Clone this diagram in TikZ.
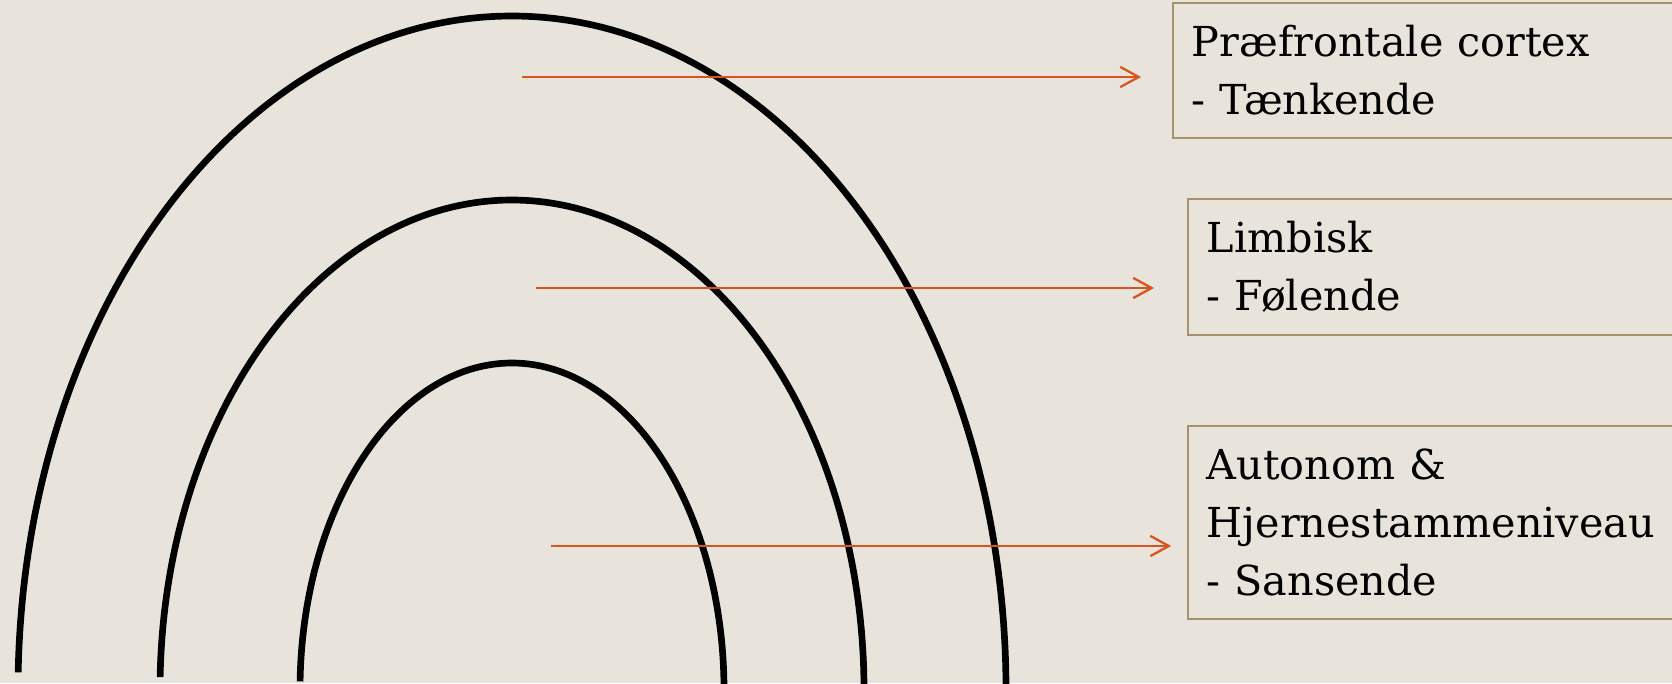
\documentclass[tikz,border=0pt]{standalone}
\usepackage{fontspec}
\setmainfont{DejaVu Serif}
\usepackage{tikz}
\usetikzlibrary{arrows.meta}
\definecolor{bgc}{RGB}{232,228,220}
\definecolor{arrowc}{RGB}{217,83,30}
\definecolor{framec}{RGB}{165,145,110}

\begin{document}
\begin{tikzpicture}[
    x=0.02cm, y=0.02cm,
    arch/.style={line width=3.8pt, black},
    level/.style={draw=framec, line width=1.1pt, anchor=north west, align=left,
                  text width=10cm, inner xsep=0.38cm,
                  font=\fontsize{23.5pt}{33pt}\selectfont},
    arrow/.style={-{Straight Barb[length=10.5pt, width=11.5pt]}, line width=1.3pt, arrowc}
]
\useasboundingbox (0,0) rectangle (1672,683);
\clip (0,0) rectangle (1672,683);
\fill[bgc] (0,0) rectangle (1672,683);

% the three arches
\foreach \a/\b in {494/674, 352/490, 212/327}
  \draw[arch] (512,-7) ++(178.5:{\a} and {\b}) arc[start angle=178.5, end angle=-2, x radius=\a, y radius=\b];

\node[level, minimum height=2.7cm] (p1) at (1172,681) {Præfrontale cortex\\- Tænkende};
\node[level, minimum height=2.72cm] (p2) at (1187,485) {Limbisk\\- Følende};
\node[level, minimum height=3.86cm] (p3) at (1187,258) {Autonom \&\\Hjernestammeniveau\\- Sansende};

\coordinate (a1) at (522,606);
\coordinate (a2) at (536,395);
\coordinate (a3) at (551,137);
\draw[arrow, shorten >=17.6pt] (a1) -- (p1.west |- a1);
\draw[arrow, shorten >=18.8pt] (a2) -- (p2.west |- a2);
\draw[arrow, shorten >=9pt] (a3) -- (p3.west |- a3);
\end{tikzpicture}
\end{document}
